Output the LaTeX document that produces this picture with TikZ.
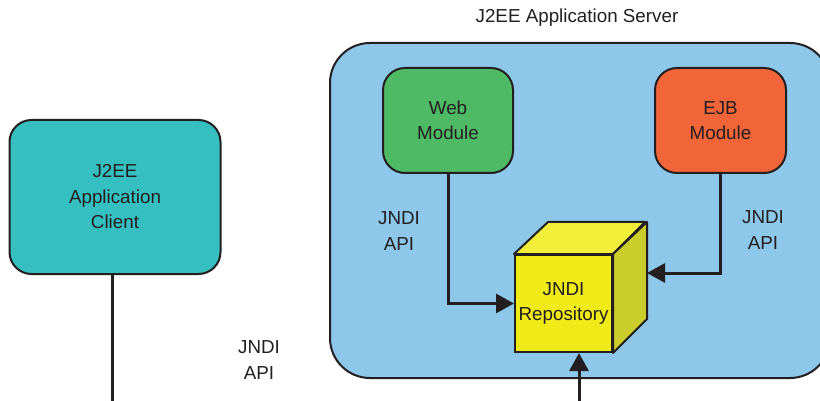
\documentclass[tikz,border=0pt]{standalone}
\usepackage{fontspec}
\setmainfont{Liberation Sans}
\usetikzlibrary{arrows.meta,calc}
\definecolor{ink}{HTML}{231F20}
\definecolor{serverblue}{HTML}{8DC8EB}
\definecolor{webgreen}{HTML}{4FBA65}
\definecolor{ejborange}{HTML}{F26539}
\definecolor{clientteal}{HTML}{35BFC1}
\definecolor{cubefront}{HTML}{F0EA18}
\definecolor{cubetop}{HTML}{F2EE3A}
\definecolor{cubeside}{HTML}{CACD2A}
\tikzset{
  txt/.style={font=\fontsize{18.8}{25.5}\selectfont, text=ink, align=center},
  module/.style={txt, draw=ink, line width=2pt, rounded corners=22pt, inner sep=0pt},
  conn/.style={draw=ink, line width=3pt, -{Triangle[length=18pt,width=19pt]}},
  plain/.style={draw=ink, line width=3pt},
}
\begin{document}
\begin{tikzpicture}[x=1pt,y=-1pt]
\useasboundingbox (0,0) rectangle (820,401);
\clip (0,0) rectangle (820,401);
% server
\node[draw=ink, line width=2pt, fill=serverblue, rounded corners=40pt,
      minimum width=500pt, minimum height=335pt] (server) at (580,210.5) {};
\node[txt] (title) at (577,18) {J2EE Application Server};
% modules
\node[module, fill=webgreen, minimum width=130pt, minimum height=105pt] (web) at (448,120.5) {Web\\Module};
\node[module, fill=ejborange, minimum width=131pt, minimum height=105pt] (ejb) at (720.5,120.5) {EJB\\Module};
\node[module, fill=clientteal, minimum width=211pt, minimum height=154pt] (client) at (115,197) {J2EE\\Application\\Client};
% cube
\node[txt, draw=ink, line width=2pt, fill=cubefront, minimum size=97pt, inner sep=0pt] (repo) at (563.5,303.5) {JNDI\\Repository};
\filldraw[fill=cubetop, draw=ink, line width=2pt, line join=round]
  (repo.north west) -- ++(34,-32) -- ++(97,0) -- (repo.north east) -- cycle;
\filldraw[fill=cubeside, draw=ink, line width=2pt, line join=round]
  (repo.north east) -- ++(34,-32) -- ++(0,97) -- (repo.south east) -- cycle;
% labels
\node[txt] (lblweb) at (399,231) {JNDI\\API};
\node[txt] (lblejb) at (763,230) {JNDI\\API};
\node[txt] (lblclient) at (259,360) {JNDI\\API};
% connectors
\coordinate (sidept) at (647,273);
\coordinate (bottomin) at (579,401);
\coordinate (clientend) at (112,401);
\draw[conn] (web.south) |- (repo.west);
\draw[conn] (ejb.south) |- (sidept);
\draw[conn] (bottomin) -- (bottomin |- repo.south);
\draw[plain] (client.south -| clientend) -- (clientend);
\end{tikzpicture}
\end{document}
